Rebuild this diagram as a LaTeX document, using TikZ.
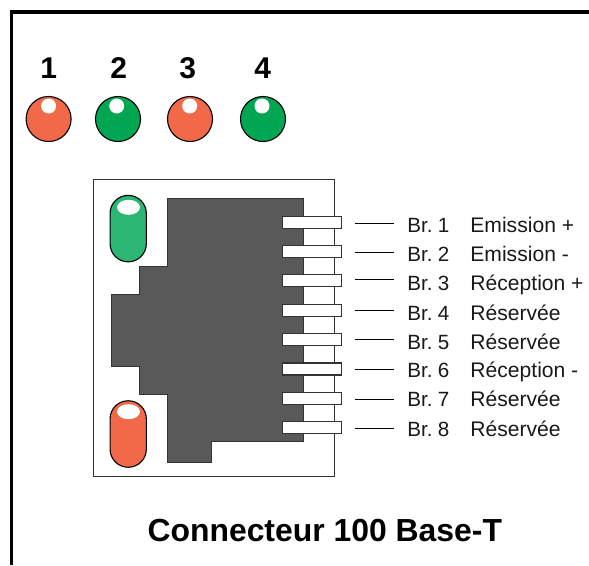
\documentclass[tikz,border=0pt]{standalone}
\usepackage{fontspec}
\setmainfont{Liberation Sans}
\definecolor{ledred}{HTML}{F2694A}
\definecolor{ledgreen}{HTML}{00A651}
\definecolor{capgreen}{HTML}{2BB673}
\definecolor{jackgray}{HTML}{595959}
\definecolor{edgegray}{HTML}{333333}
\tikzset{
  x=1pt,y=-1pt,
  frameline/.style={draw=black,line width=3.6pt},
  led/.style={circle,draw=black,line width=1.1pt,minimum size=45pt,inner sep=0pt},
  ledspot/.style={circle,fill=white,minimum size=15pt,inner sep=0pt},
  ledno/.style={anchor=base,font=\fontsize{30}{30}\selectfont\bfseries,inner sep=0pt},
  capsule/.style={rounded rectangle,draw=black,line width=1.1pt,minimum width=66.5pt,minimum height=36.3pt,inner sep=0pt,rotate=90},
  capspot/.style={ellipse,fill=white,minimum width=23pt,minimum height=15pt,inner sep=0pt},
  housing/.style={draw=edgegray,line width=0.9pt,fill=white},
  jack/.style={draw=edgegray,line width=0.9pt,fill=jackgray},
  pin/.style={rectangle,draw=edgegray,line width=1.4pt,fill=white,minimum width=59.4pt,minimum height=12pt,inner sep=0pt},
  leader/.style={draw=black,line width=0.8pt},
  pinlabel/.style={anchor=base west,font=\fontsize{20.6}{20}\selectfont,inner sep=0pt,text=black!90},
  fnlabel/.style={anchor=base west,font=\fontsize{21.1}{21}\selectfont,inner sep=0pt,text=black!90},
  title/.style={anchor=base,font=\fontsize{31.9}{32}\selectfont\bfseries,inner sep=0pt}
}
\usetikzlibrary{shapes.geometric,shapes.misc}
\begin{document}
\begin{tikzpicture}
\useasboundingbox (0,0) rectangle (589,565);
\fill[white] (0,0) rectangle (589,565);
\draw[frameline] (11.3,565) -- (11.3,11.7) -- (589,11.7);
% LEDs
\foreach \n/\cx/\sx/\tx/\col in {1/48.6/48.6/48.7/ledred,2/118/116.7/118.7/ledgreen,3/190/189.7/187.7/ledred,4/263/262/262.7/ledgreen}{
  \node[led,fill=\col] (led\n) at (\cx,119) {};
  \node[ledspot] (spot\n) at (\sx,106) {};
  \node[ledno] (no\n) at (\tx,78) {\n};
}
% housing
\draw[housing] (93.7,179) rectangle (334,476.7);
\draw[jack] (167.5,198.7) -- (303.7,198.7) -- (303.7,441.7) -- (211.7,441.7) -- (211.7,462) -- (167.5,462) -- (167.5,394) -- (139.7,394) -- (139.7,366.3) -- (111.3,366.3) -- (111.3,294.3) -- (139.7,294.3) -- (139.7,266.7) -- (167.5,266.7) -- cycle;
% capsules
\node[capsule,fill=capgreen] (capg) at (128.2,228.6) {};
\node[capspot] (capgs) at (128.5,207.3) {};
\node[capsule,fill=ledred] (capr) at (128.2,434) {};
\node[capspot] (caprs) at (128.5,411.7) {};
% pins, leaders and labels
\foreach \n/\py/\ly/\by/\txt in {
  1/222.3/223.3/232.3/Emission +,
  2/251.7/252/261/Emission -,
  3/280.7/279.7/290/Réception +,
  4/310.2/310.7/320/Réservée,
  5/339.7/339.7/349/Réservée,
  6/368.8/369.3/377.7/Réception -,
  7/398.3/399.7/406.7/Réservée,
  8/427.7/428.7/436/Réservée}{
  \node[pin] (pin\n) at (312,\py) {};
  \coordinate (la\n) at (355,\ly);
  \coordinate (lb\n) at (393.7,\ly);
  \draw[leader] (la\n) -- (lb\n);
  \node[pinlabel] (br\n) at (407.2,\by) {Br.\kern0.26em\n};
  \node[fnlabel] (fn\n) at (470.2,\by) {\txt};
}
\node[title] (caption) at (324.8,541.7) {Connecteur 100 Base-T};
\end{tikzpicture}
\end{document}
